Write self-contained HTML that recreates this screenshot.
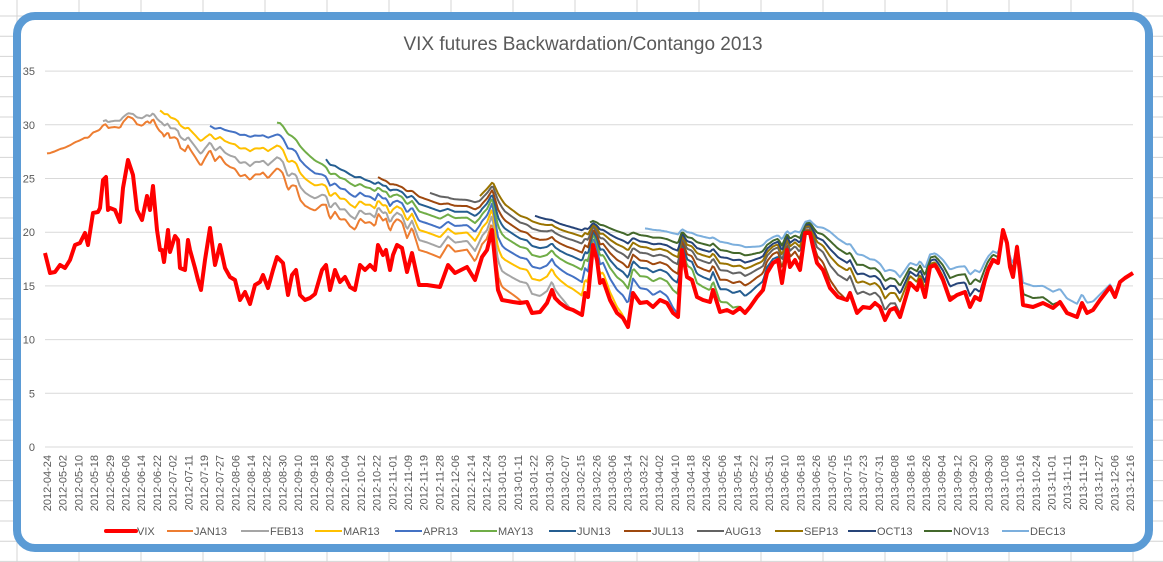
<!DOCTYPE html>
<html><head><meta charset="utf-8"><style>
html,body{margin:0;padding:0;background:#fff;}
svg{display:block;font-family:"Liberation Sans",sans-serif;}
</style></head><body>
<svg id="s" width="1163" height="562" xmlns="http://www.w3.org/2000/svg">
<g id="bg"></g>
<rect x="17" y="16" width="1132" height="532" rx="18" fill="#fff" stroke="#5B9BD5" stroke-width="8"/>
<text x="583" y="50" text-anchor="middle" font-size="19" fill="#595959">VIX futures Backwardation/Contango 2013</text>
<g id="grid"></g>
<g id="series"></g>
<g id="xl"></g>
<g id="leg"></g>
</svg>
<script>
const NS="http://www.w3.org/2000/svg";
function el(p,t,a,txt){const e=document.createElementNS(NS,t);for(const k in a)e.setAttribute(k,a[k]);if(txt!=null)e.textContent=txt;p.appendChild(e);return e;}
const bg=document.getElementById('bg');
for(let x=17;x<1163;x+=62)el(bg,'line',{x1:x,y1:0,x2:x,y2:562,stroke:'#d4d4d4','stroke-width':1});
for(let y=16;y<562;y+=20.2)el(bg,'line',{x1:0,y1:y,x2:1163,y2:y,stroke:'#d4d4d4','stroke-width':1});
const g=document.getElementById('grid');
const Y=v=>447-v*10.74;
for(let v=0;v<=35;v+=5){const y=Y(v);el(g,'line',{x1:45,y1:y,x2:1133,y2:y,stroke:'#d9d9d9','stroke-width':1});
el(g,'text',{x:35,y:y+4,'text-anchor':'end','font-size':11,fill:'#595959'},String(v));}
const labels="2012-04-24 2012-05-02 2012-05-10 2012-05-18 2012-05-29 2012-06-06 2012-06-14 2012-06-22 2012-07-02 2012-07-11 2012-07-19 2012-07-27 2012-08-06 2012-08-14 2012-08-22 2012-08-30 2012-09-10 2012-09-18 2012-09-26 2012-10-04 2012-10-12 2012-10-22 2012-11-01 2012-11-09 2012-11-19 2012-11-28 2012-12-06 2012-12-14 2012-12-24 2013-01-03 2013-01-11 2013-01-22 2013-01-30 2013-02-07 2013-02-15 2013-02-26 2013-03-06 2013-03-14 2013-03-22 2013-04-02 2013-04-10 2013-04-18 2013-04-26 2013-05-06 2013-05-14 2013-05-22 2013-05-31 2013-06-10 2013-06-18 2013-06-26 2013-07-05 2013-07-15 2013-07-23 2013-07-31 2013-08-08 2013-08-16 2013-08-26 2013-09-04 2013-09-12 2013-09-20 2013-09-30 2013-10-08 2013-10-16 2013-10-24 2013-11-01 2013-11-11 2013-11-19 2013-11-27 2013-12-06 2013-12-16".split(' ');
const xl=document.getElementById('xl');
labels.forEach((l,i)=>{const x=47+i*(1083/69);el(xl,'text',{transform:`translate(${x+4},455) rotate(-90)`,'text-anchor':'end','font-size':11,fill:'#595959'},l);});
const V=[[45,253],[50,273],[55,272],[60,265],[65,268],[70,260],[75,245],[80,243],[85,233],[88,245],[93,213],[98,212],[100,208],[103,180],[106,177],[108,210],[110,208],[115,210],[120,222],[123,188],[128,160],[133,175],[137,210],[142,220],[147,196],[150,210],[153,186],[157,230],[160,250],[162,250],[164,262],[168,230],[170,252],[175,236],[178,240],[180,268],[185,270],[188,240],[190,250],[195,268],[198,280],[201,290],[205,260],[210,228],[215,265],[220,245],[225,268],[230,277],[235,280],[240,300],[245,292],[250,304],[255,285],[260,282],[263,275],[268,288],[273,270],[277,257],[283,263],[288,295],[292,275],[296,270],[300,295],[305,300],[310,298],[315,294],[322,270],[326,265],[330,290],[335,270],[340,282],[345,277],[350,287],[355,290],[360,265],[365,270],[370,265],[375,270],[378,245],[383,255],[386,250],[390,270],[393,255],[397,245],[402,248],[407,272],[412,253],[419,285],[427,285],[440,287],[448,265],[455,273],[467,267],[475,280],[482,257],[487,250],[492,230],[498,290],[502,300],[513,302],[520,303],[527,302],[532,313],[540,312],[547,303],[552,290],[555,298],[560,303],[567,308],[573,310],[582,315],[585,293],[588,297],[593,245],[597,260],[600,283],[603,280],[610,300],[617,313],[623,318],[628,327],[633,293],[640,303],[647,302],[653,307],[660,300],[667,303],[673,313],[678,317],[682,250],[687,277],[692,280],[697,297],[703,300],[710,302],[713,290],[720,312],[727,310],[733,313],[740,308],[745,313],[750,307],[757,297],[763,290],[767,273],[773,263],[778,260],[782,283],[787,250],[790,267],[795,260],[800,270],[805,233],[810,233],[813,247],[817,263],[823,270],[830,288],[838,297],[847,300],[850,293],[857,313],[863,307],[870,308],[875,303],[880,307],[885,320],[890,310],[895,308],[900,317],[905,300],[910,283],[917,290],[920,280],[925,297],[930,267],[935,265],[938,270],[943,280],[950,300],[957,295],[965,292],[970,307],[975,297],[980,300],[985,280],[988,270],[993,260],[998,263],[1003,230],[1007,243],[1010,267],[1013,277],[1017,247],[1020,273],[1023,305],[1033,307],[1043,303],[1053,308],[1060,302],[1067,313],[1077,317],[1082,303],[1087,313],[1093,310],[1100,300],[1110,287],[1115,297],[1120,282],[1125,278],[1133,273]];
const L=[[45,148],[100,118],[128,108],[160,100],[200,120],[280,112],[330,155],[400,180],[450,192],[480,192],[493,178],[505,195],[520,205],[560,215],[600,220],[640,225],[700,228],[760,235],[800,220],[830,208],[870,232],[900,250],[960,238],[1000,240],[1030,245],[1080,262],[1133,273]];
function interp(a,x){if(x<=a[0][0])return a[0][1];for(let i=1;i<a.length;i++){if(x<=a[i][0]){const[x0,y0]=a[i-1],[x1,y1]=a[i];return y0+(y1-y0)*(x-x0)/(x1-x0);}}return a[a.length-1][1];}
const S=document.getElementById('series');
const fut=[['JAN13','#ED7D31',47,522],['FEB13','#A5A5A5',103,570],['MAR13','#FFC000',160,625],['APR13','#4472C4',210,680],['MAY13','#70AD47',277,741],['JUN13','#255E91',326,793],['JUL13','#9E480E',378,845],['AUG13','#636363',430,905],['SEP13','#997300',480,955],['OCT13','#264478',535,1002],['NOV13','#43682B',590,1060],['DEC13','#7CAFDD',645,1133]];
fut.forEach(([n,c,s,e])=>{let pts=[];for(let x=s;x<=e;x+=1.5){const v=interp(V,x),l=interp(L,x);const h=Math.pow(Math.min(1,(e-x)/520),0.65);pts.push(x.toFixed(1)+','+(v+(l-v)*h).toFixed(1));}
el(S,'polyline',{points:pts.join(' '),fill:'none',stroke:c,'stroke-width':2,'stroke-linejoin':'round'});});
el(S,'polyline',{points:V.map(p=>p.join(',')).join(' '),fill:'none',stroke:'#FF0000','stroke-width':4,'stroke-linejoin':'round'});
const lg=document.getElementById('leg');
const items=[['VIX','#FF0000',106,137,4],['JAN13','#ED7D31',167,194,2],['FEB13','#A5A5A5',241,270,2],['MAR13','#FFC000',315,343,2],['APR13','#4472C4',395,423,2],['MAY13','#70AD47',470,498,2],['JUN13','#255E91',549,577,2],['JUL13','#9E480E',624,652,2],['AUG13','#636363',697,725,2],['SEP13','#997300',775,804,2],['OCT13','#264478',848,877,2],['NOV13','#43682B',924,953,2],['DEC13','#7CAFDD',1002,1030,2]];
items.forEach(([n,c,x1,tx,w])=>{el(lg,'line',{x1:x1,y1:531,x2:tx-1,y2:531,stroke:c,'stroke-width':w,'stroke-linecap':w>2?'round':'butt'});el(lg,'text',{x:tx,y:535,'font-size':11,fill:'#595959'},n);});
</script>
</body></html>
